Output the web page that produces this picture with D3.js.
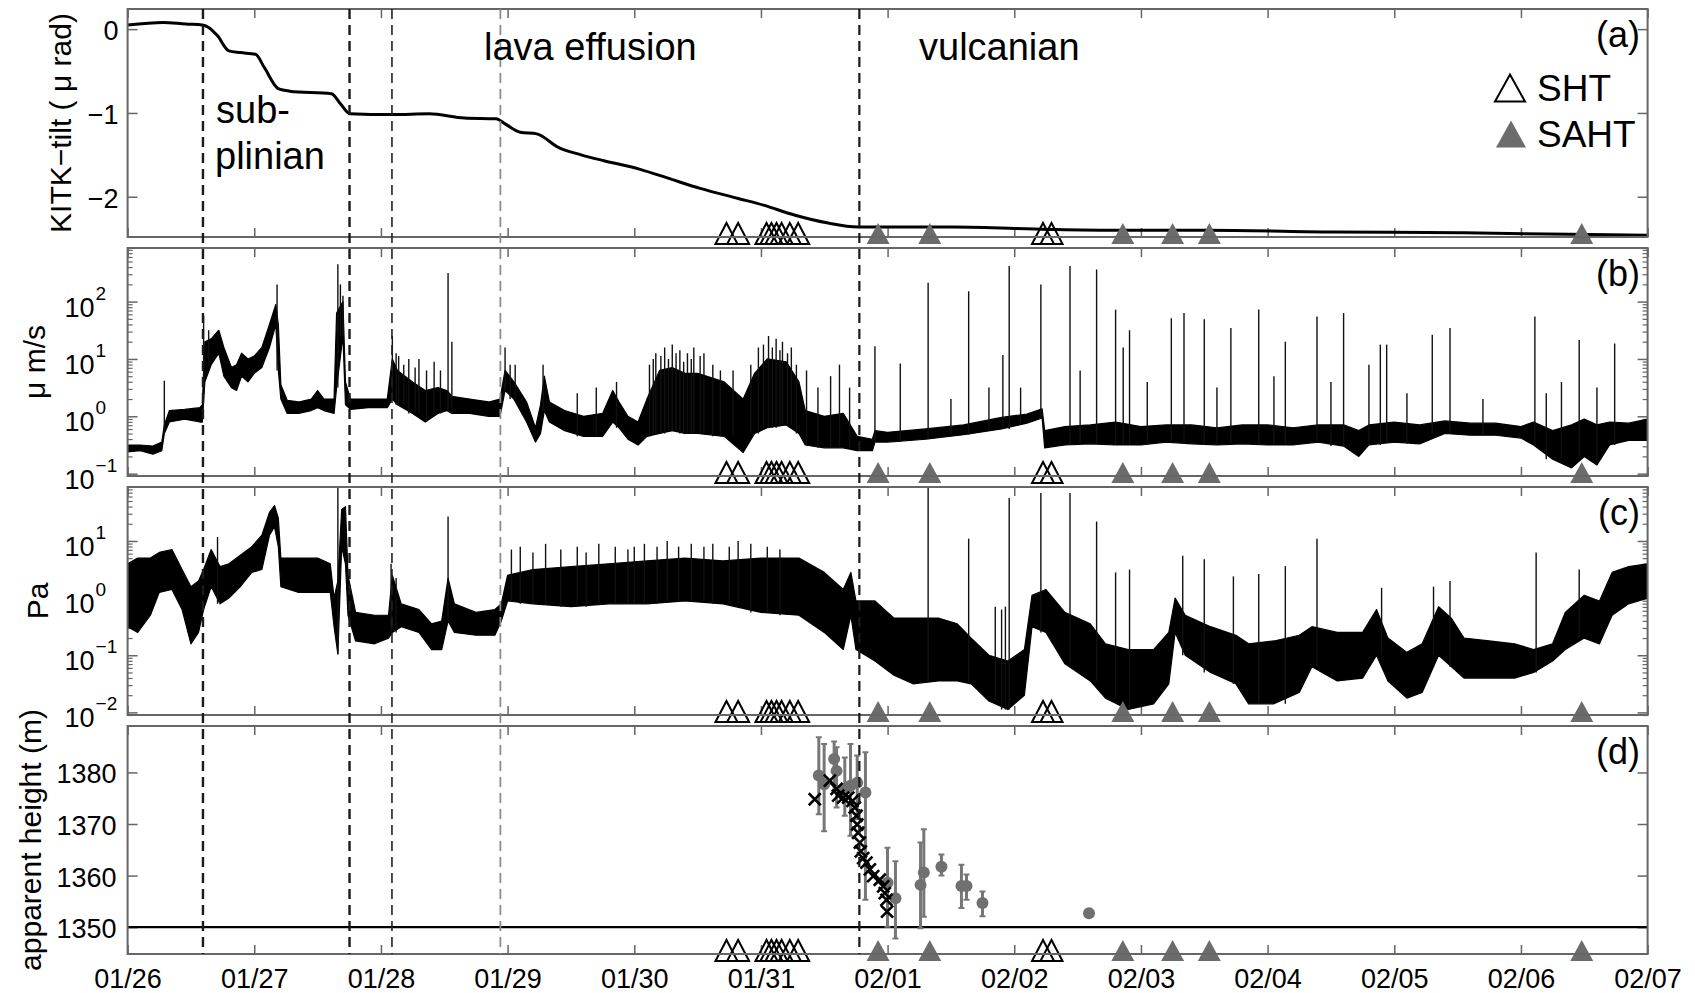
<!DOCTYPE html>
<html>
<head>
<meta charset="utf-8">
<script src="https://cdn.jsdelivr.net/npm/d3@7/dist/d3.min.js"></script>
<style>
  body { margin: 0; background: #fff; }
  svg text { font-family: "Liberation Sans", Arial, sans-serif; }
</style>
</head>
<body>
<svg id="chart" width="1695" height="993"></svg>
<script>
// ---------- data (time = days since 01/26 00:00) ----------
const xTickLabels = ["01/26", "01/27", "01/28", "01/29", "01/30", "01/31", "02/01",
                     "02/02", "02/03", "02/04", "02/05", "02/06", "02/07"];
const eventTimes = [0.595, 1.752, 2.087, 2.943, 5.777];

// (a) tilt, micro-rad
const tiltTime  = [0, 0.28, 0.46, 0.59, 0.64, 0.71, 0.80, 0.89, 1.01, 1.08, 1.19, 1.28, 1.61, 1.68, 1.755,
                   2.09, 2.38, 2.66, 2.91, 2.98, 3.10, 3.23, 3.40, 3.58, 3.76, 4.04, 4.29, 4.52, 4.82, 5.02,
                   5.27, 5.52, 5.77, 6.52, 7.27, 7.77, 8.52, 9.52, 10.52, 11.03, 12.0];
const tiltValue = [0.05, 0.08, 0.06, 0.05, 0.02, -0.08, -0.26, -0.28, -0.30, -0.46, -0.71, -0.74, -0.77, -0.89, -1.01,
                   -1.02, -1.01, -1.06, -1.07, -1.13, -1.23, -1.25, -1.41, -1.50, -1.57, -1.67, -1.79, -1.90, -2.02, -2.10,
                   -2.22, -2.31, -2.36, -2.36, -2.39, -2.40, -2.40, -2.42, -2.43, -2.44, -2.46];

// (b) velocity envelope, log10(um/s): [time, low, high]
const velBand = [[0,-0.62,-0.5],[0.10,-0.6,-0.5],[0.20,-0.66,-0.52],[0.27,-0.6,-0.45],[0.29,-0.3,-0.15],[0.33,-0.1,0.1],
  [0.45,-0.05,0.12],[0.57,-0.1,0.15],[0.59,-0.1,0.2],[0.61,0.6,1.3],[0.66,0.9,1.35],[0.72,1.1,1.5],[0.76,0.7,1.2],
  [0.82,0.5,0.85],[0.86,0.45,0.9],[0.90,0.7,1.1],[0.95,0.6,1.0],[1.00,0.75,1.05],[1.06,0.85,1.2],[1.12,1.2,1.6],
  [1.17,1.6,1.95],[1.19,0.8,1.6],[1.21,0.3,0.55],[1.26,0.05,0.28],[1.35,0.05,0.25],[1.45,0.1,0.3],[1.50,0.15,0.45],
  [1.55,0.1,0.3],[1.63,0.05,0.3],[1.65,0.5,1.8],[1.70,1.4,2.0],[1.72,0.2,0.6],[1.76,0.12,0.3],[1.90,0.15,0.3],
  [2.05,0.15,0.3],[2.09,0.3,1.0],[2.13,0.2,0.8],[2.25,0.05,0.6],[2.35,-0.1,0.45],[2.45,0.05,0.5],[2.52,0.1,0.45],
  [2.56,0.05,0.35],[2.70,0.05,0.3],[2.85,0.0,0.25],[2.94,0.0,0.3],[2.98,0.45,0.8],[3.05,0.3,0.6],[3.15,-0.1,0.25],
  [3.22,-0.45,-0.2],[3.26,-0.3,0.2],[3.29,0.1,0.7],[3.33,-0.1,0.25],[3.45,-0.25,0.1],[3.60,-0.35,0.0],
  [3.75,-0.35,0.05],[3.83,-0.1,0.45],[3.88,-0.2,0.25],[3.95,-0.4,0.0],[4.03,-0.5,-0.1],[4.10,-0.35,0.3],
  [4.20,-0.3,0.8],[4.30,-0.25,0.85],[4.40,-0.3,0.75],[4.50,-0.3,0.75],[4.71,-0.35,0.6],[4.86,-0.63,0.3],
  [4.95,-0.3,0.75],[5.05,-0.2,1.0],[5.20,-0.15,0.95],[5.30,-0.3,0.6],[5.35,-0.5,0.1],[5.50,-0.55,0.0],
  [5.65,-0.55,0.05],[5.76,-0.6,-0.35],[5.88,-0.6,-0.4],[5.90,-0.45,-0.25],[6.00,-0.45,-0.28],[6.30,-0.4,-0.22],
  [6.60,-0.32,-0.15],[6.90,-0.22,-0.02],[7.10,-0.12,0.04],[7.22,-0.03,0.13],[7.24,-0.55,-0.25],[7.40,-0.5,-0.18],
  [7.60,-0.48,-0.15],[7.80,-0.5,-0.1],[8.00,-0.5,-0.18],[8.20,-0.45,-0.15],[8.40,-0.48,-0.15],[8.60,-0.5,-0.2],
  [8.80,-0.48,-0.15],[9.00,-0.5,-0.15],[9.20,-0.5,-0.2],[9.40,-0.45,-0.15],[9.60,-0.52,-0.15],[9.72,-0.7,-0.25],
  [9.80,-0.5,-0.15],[10.0,-0.45,-0.1],[10.2,-0.48,-0.15],[10.4,-0.3,-0.08],[10.6,-0.33,-0.12],[10.8,-0.33,-0.12],
  [11.0,-0.38,-0.18],[11.1,-0.5,-0.1],[11.25,-0.75,-0.25],[11.4,-0.9,-0.15],[11.5,-0.7,-0.05],[11.6,-0.85,-0.15],
  [11.7,-0.5,-0.1],[11.85,-0.42,-0.12],[12.0,-0.42,-0.05]];
// (b) isolated spikes: [time, log10 peak]
const velSpikes = [[0.29,0.62],[0.60,1.75],[0.64,1.5],[1.18,2.3],[1.66,2.65],[1.68,2.3],[1.70,2.1],[2.09,1.4],
  [2.12,1.1],[2.14,1.05],[2.18,0.9],[2.22,1.0],[2.27,0.85],[2.30,1.0],[2.36,0.8],[2.42,0.95],[2.47,0.8],[2.53,2.5],
  [2.56,1.3],[2.98,1.2],[3.02,0.9],[3.06,0.9],[3.28,0.9],[3.55,0.4],[3.70,0.5],[3.86,0.6],[4.12,0.9],[4.15,1.0],
  [4.17,1.1],[4.21,1.05],[4.24,1.2],[4.27,1.0],[4.30,1.25],[4.33,1.1],[4.36,1.15],[4.39,0.95],[4.42,1.1],[4.45,1.0],
  [4.47,1.2],[4.52,1.05],[4.55,1.1],[4.62,0.9],[4.68,0.8],[4.78,0.8],[4.92,0.9],[4.98,1.2],[5.02,1.25],[5.06,1.4],
  [5.09,1.2],[5.12,1.35],[5.15,1.15],[5.17,1.3],[5.21,1.1],[5.24,1.2],[5.28,0.9],[5.36,0.8],[5.45,0.5],[5.55,0.7],
  [5.62,0.9],[5.70,0.5],[5.90,1.22],[6.10,0.92],[6.32,2.33],[6.50,0.3],[6.64,2.18],[6.80,0.5],[6.91,1.07],[6.96,2.62],
  [7.05,0.5],[7.21,2.3],[7.44,2.62],[7.52,0.8],[7.65,2.56],[7.80,1.86],[7.86,1.2],[7.91,1.5],[8.05,0.6],[8.24,1.71],
  [8.34,1.8],[8.50,1.69],[8.60,0.5],[8.71,1.54],[8.93,1.86],[9.05,0.7],[9.14,1.3],[9.39,1.74],[9.50,0.6],[9.60,1.8],
  [9.80,0.9],[9.89,1.25],[9.94,1.25],[10.10,0.4],[10.30,1.42],[10.44,1.54],[10.70,0.3],[11.11,1.74],[11.20,0.4],
  [11.32,0.6],[11.46,1.33],[11.60,0.5],[11.74,1.27]];

// (c) infrasound envelope, log10(Pa): [time, low, high]
const presBand = [[0,-0.5,0.6],[0.08,-0.6,0.7],[0.18,-0.3,0.7],[0.25,0.1,0.8],[0.35,0.15,0.85],[0.43,-0.2,0.5],
  [0.50,-0.8,0.2],[0.56,-0.6,0.3],[0.60,-0.2,0.5],[0.66,0.2,0.85],[0.73,-0.1,0.55],[0.80,0.0,0.6],[0.89,0.2,0.75],
  [0.98,0.45,0.9],[1.06,0.5,1.1],[1.12,1.1,1.5],[1.16,1.25,1.62],[1.19,0.9,1.4],[1.21,0.2,0.7],[1.35,0.1,0.7],
  [1.50,0.1,0.7],[1.60,0.1,0.6],[1.63,-0.5,0.0],[1.66,-0.98,0.3],[1.69,0.9,1.55],[1.72,0.6,1.6],[1.74,-0.3,0.4],
  [1.80,-0.75,-0.25],[1.95,-0.8,-0.3],[2.06,-0.7,-0.3],[2.09,-0.6,0.4],[2.16,-0.5,-0.1],[2.30,-0.6,-0.2],
  [2.40,-0.9,-0.45],[2.48,-0.9,-0.4],[2.53,-0.4,0.35],[2.58,-0.6,-0.1],[2.75,-0.65,-0.25],[2.90,-0.65,-0.2],
  [2.95,-0.4,-0.1],[3.00,-0.05,0.4],[3.20,-0.1,0.5],[3.50,-0.15,0.55],[3.80,-0.1,0.6],[4.10,-0.1,0.65],
  [4.40,-0.05,0.7],[4.70,-0.1,0.65],[5.00,-0.25,0.7],[5.30,-0.3,0.7],[5.50,-0.6,0.45],[5.65,-0.9,0.15],
  [5.71,-0.3,0.45],[5.75,-0.9,-0.05],[5.90,-1.1,-0.05],[6.05,-1.35,-0.35],[6.20,-1.5,-0.35],[6.40,-1.45,-0.35],
  [6.55,-1.45,-0.45],[6.66,-1.5,-0.7],[6.80,-1.8,-1.0],[6.95,-1.95,-1.1],[7.08,-1.7,-0.9],[7.14,-0.5,0.05],
  [7.25,-0.6,0.15],[7.40,-1.15,-0.25],[7.60,-1.45,-0.45],[7.72,-1.75,-0.8],[7.90,-1.95,-0.9],[8.10,-1.85,-0.9],
  [8.22,-1.5,-0.6],[8.27,-0.6,0.0],[8.35,-1.0,-0.3],[8.55,-1.3,-0.5],[8.75,-1.5,-0.65],[8.85,-1.85,-0.8],
  [9.05,-1.85,-0.75],[9.25,-1.65,-0.65],[9.35,-1.2,-0.5],[9.55,-1.45,-0.6],[9.75,-1.4,-0.6],[9.86,-1.0,-0.2],
  [9.95,-1.45,-0.7],[10.10,-1.75,-0.95],[10.22,-1.65,-0.8],[10.35,-1.0,-0.15],[10.45,-1.2,-0.35],[10.55,-1.4,-0.7],
  [10.75,-1.4,-0.75],[10.95,-1.4,-0.8],[11.10,-1.3,-0.9],[11.25,-1.1,-0.8],[11.35,-0.9,-0.25],[11.50,-0.7,0.05],
  [11.62,-0.8,-0.05],[11.72,-0.3,0.45],[11.85,-0.1,0.55],[12.00,0.0,0.6]];
const presSpikes = [[0.71,1.07],[1.66,1.95],[2.08,0.6],[2.12,0.35],[2.53,1.43],[3.03,0.85],[3.10,0.9],[3.20,0.8],
  [3.30,0.95],[3.42,0.85],[3.55,0.9],[3.62,0.8],[3.72,0.95],[3.85,0.9],[3.95,0.85],[4.00,0.9],[4.08,0.95],[4.18,0.9],
  [4.26,1.0],[4.35,0.9],[4.45,0.95],[4.55,0.9],[4.62,0.95],[4.75,0.9],[4.82,1.0],[4.92,0.95],[5.05,0.9],[5.15,0.85],
  [6.32,1.93],[6.64,1.04],[6.85,-0.15],[6.90,-0.2],[6.93,-0.15],[6.96,1.75],[7.21,1.84],[7.44,1.84],[7.65,1.34],
  [7.80,0.45],[7.91,0.5],[8.33,0.74],[8.50,0.68],[8.73,0.38],[8.93,0.42],[9.14,0.56],[9.39,1.04],[9.90,0.18],
  [10.31,0.2],[10.44,0.3],[11.12,0.8],[11.46,0.5]];

// (d) apparent height, m
const dotTime    = [5.457, 5.499, 5.578, 5.597, 5.662, 5.707, 5.760, 5.825, 5.999, 6.062, 6.260, 6.286, 6.425, 6.583, 6.623, 6.749, 7.590];
const dotHeight  = [1379.4, 1377.7, 1382.6, 1380.3, 1376.8, 1377.4, 1378.0, 1376.1, 1358.6, 1355.6, 1358.2, 1360.6, 1361.7, 1358.0, 1358.0, 1354.7, 1352.7];
const dotErrLow  = [1371.9, 1368.6, 1376.4, 1373.2, 1371.6, 1367.7, 1370.9, 1355.3, 1350.1, 1347.8, 1349.8, 1352.0, 1360.0, 1353.7, 1355.3, 1352.1, 1352.0];
const dotErrHigh = [1386.8, 1385.5, 1386.0, 1384.9, 1382.9, 1385.5, 1383.3, 1383.9, 1365.4, 1362.8, 1366.4, 1369.0, 1364.1, 1362.1, 1360.2, 1356.9, 1353.4];
const crossTime   = [5.425, 5.544, 5.597, 5.610, 5.649, 5.689, 5.723, 5.741, 5.754, 5.760, 5.767, 5.781, 5.789,
                     5.807, 5.833, 5.860, 5.886, 5.938, 5.965, 5.978, 5.991, 5.996];
const crossHeight = [1374.8, 1378.4, 1376.8, 1375.5, 1375.1, 1375.1, 1374.5, 1373.2, 1371.6, 1369.9, 1368.3, 1366.4, 1364.7,
                     1363.4, 1362.5, 1361.2, 1359.9, 1359.2, 1357.9, 1356.6, 1355.3, 1353.0];
const crestHeight = 1350;

// event markers
const shtTime  = [4.728, 4.820, 5.044, 5.083, 5.123, 5.163, 5.228, 5.294, 7.227, 7.294];
const sahtTime = [5.925, 6.333, 7.857, 8.250, 8.540, 11.48];

// ---------- layout ----------
const svg = d3.select("#chart");
const X0 = 127.6, X1 = 1647.6;
const panelTops = [9, 248, 487, 726];
const PH = 228;
const frameColor = "#666";
const grayMark = "#6c6c6c";

const x = d3.scaleLinear().domain([0, 12]).range([X0, X1]);
const yA = d3.scaleLinear().domain([-2.48, 0.24]).range([panelTops[0] + PH, panelTops[0]]);
const yB = d3.scaleLog().domain([0.091, 860]).range([panelTops[1] + PH, panelTops[1]]);
const yC = d3.scaleLog().domain([0.009, 88]).range([panelTops[2] + PH, panelTops[2]]);
const yD = d3.scaleLinear().domain([1344.8, 1389]).range([panelTops[3] + PH, panelTops[3]]);
const yScales = [yA, yB, yC, yD];

const defs = svg.append("defs");
panelTops.forEach((top, i) => {
  defs.append("clipPath").attr("id", "clip" + i)
    .append("rect").attr("x", X0).attr("y", top).attr("width", X1 - X0).attr("height", PH);
});

function logMinor(scale) {
  const [lo, hi] = scale.domain();
  const out = [];
  for (let k = -3; k <= 3; k++) for (let m = 2; m <= 9; m++) {
    const v = m * Math.pow(10, k);
    if (v > lo && v < hi) out.push(v);
  }
  return out;
}

function styleAxis(g, width) {
  g.select(".domain").remove();
  g.selectAll(".tick line").attr("stroke", frameColor).attr("stroke-width", width || 1.5);
  g.selectAll(".tick text").attr("fill", "#000").attr("font-size", 27)
    .attr("font-family", "'Liberation Sans', Arial, sans-serif");
}

// axes (ticks) for each panel
panelTops.forEach((top, i) => {
  const bottom = top + PH;
  const y = yScales[i];
  const g = svg.append("g").attr("class", "panel-axes");

  const isLast = i === 3;
  g.append("g").attr("transform", `translate(0,${bottom})`)
    .call(d3.axisBottom(x).tickValues(d3.range(13)).tickSize(-9).tickSizeOuter(0).tickPadding(15)
      .tickFormat(isLast ? (d, k) => xTickLabels[k] : ""))
    .call(styleAxis);
  g.append("g").attr("transform", `translate(0,${top})`)
    .call(d3.axisTop(x).tickValues(d3.range(13)).tickSize(-9).tickSizeOuter(0).tickFormat(""))
    .call(styleAxis);

  let major;
  if (i === 0) major = [-2, -1, 0];
  else if (i === 1) major = [0.1, 1, 10, 100];
  else if (i === 2) major = [0.01, 0.1, 1, 10];
  else major = [1350, 1360, 1370, 1380];

  g.append("g").attr("transform", `translate(${X0},0)`)
    .call(d3.axisLeft(y).tickValues(major).tickSize(-10).tickSizeOuter(0).tickFormat(""))
    .call(styleAxis);
  g.append("g").attr("transform", `translate(${X1},0)`)
    .call(d3.axisRight(y).tickValues(major).tickSize(-10).tickSizeOuter(0).tickFormat(""))
    .call(styleAxis);

  if (i === 1 || i === 2) {
    const minor = logMinor(y);
    g.append("g").attr("transform", `translate(${X0},0)`)
      .call(d3.axisLeft(y).tickValues(minor).tickSize(-5).tickSizeOuter(0).tickFormat(""))
      .call(styleAxis, 1.2);
    g.append("g").attr("transform", `translate(${X1},0)`)
      .call(d3.axisRight(y).tickValues(minor).tickSize(-5).tickSizeOuter(0).tickFormat(""))
      .call(styleAxis, 1.2);
    // 10^n labels
    major.forEach(v => {
      const yy = y(v);
      const e = Math.round(Math.log10(v));
      g.append("text").attr("x", X0 - 33).attr("y", yy + 15).attr("text-anchor", "end")
        .attr("font-size", 27).text("10");
      g.append("text").attr("x", X0 - 32).attr("y", yy - 2).attr("text-anchor", "start")
        .attr("font-size", 19).text(e < 0 ? "\u2212" + (-e) : String(e));
    });
  } else {
    major.forEach(v => {
      g.append("text").attr("x", X0 - (i === 0 ? 9 : 11)).attr("y", y(v) + 11)
        .attr("text-anchor", "end").attr("font-size", 27)
        .text(v < 0 ? "\u2212" + (-v) : String(v));
    });
  }
});

// ---------- (a) tilt ----------
const gA = svg.append("g").attr("clip-path", "url(#clip0)");
gA.append("path")
  .datum(d3.zip(tiltTime, tiltValue))
  .attr("fill", "none").attr("stroke", "#000").attr("stroke-width", 3)
  .attr("d", d3.line().x(d => x(d[0])).y(d => yA(d[1])).curve(d3.curveMonotoneX));

// ---------- (b), (c) noisy traces ----------
function drawTrace(clipId, y, band, spikes) {
  const g = svg.append("g").attr("clip-path", `url(#${clipId})`);
  g.append("path").datum(band)
    .attr("fill", "#000").attr("stroke", "#000").attr("stroke-width", 1.2).attr("stroke-linejoin", "round")
    .attr("d", d3.area().x(d => x(d[0])).y0(d => y(10 ** d[1])).y1(d => y(10 ** d[2])));
  const near = d3.bisector(d => d[0]).center;
  g.selectAll("line.spike").data(spikes).join("line")
    .attr("class", "spike")
    .attr("x1", d => x(d[0])).attr("x2", d => x(d[0]))
    .attr("y1", d => y(10 ** band[near(band, d[0])][1]))
    .attr("y2", d => y(10 ** d[1]))
    .attr("stroke", "#111").attr("stroke-width", 1.4);
}
drawTrace("clip1", yB, velBand, velSpikes);
drawTrace("clip2", yC, presBand, presSpikes);

// ---------- (d) apparent height ----------
const gD = svg.append("g").attr("clip-path", "url(#clip3)");
gD.append("line")
  .attr("x1", X0).attr("x2", X1).attr("y1", yD(crestHeight)).attr("y2", yD(crestHeight))
  .attr("stroke", "#000").attr("stroke-width", 2.2);
const dots = d3.range(dotTime.length);
gD.selectAll("line.err").data(dots).join("line").attr("class", "err")
  .attr("x1", i => x(dotTime[i])).attr("x2", i => x(dotTime[i]))
  .attr("y1", i => yD(dotErrLow[i])).attr("y2", i => yD(dotErrHigh[i]))
  .attr("stroke", "#777").attr("stroke-width", 3);
gD.selectAll("path.cap").data(dots).join("path").attr("class", "cap")
  .attr("d", i => `M${x(dotTime[i]) - 3},${yD(dotErrLow[i])}h6M${x(dotTime[i]) - 3},${yD(dotErrHigh[i])}h6`)
  .attr("stroke", "#777").attr("stroke-width", 2);
gD.selectAll("circle.dot").data(dots).join("circle").attr("class", "dot")
  .attr("cx", i => x(dotTime[i])).attr("cy", i => yD(dotHeight[i])).attr("r", 6)
  .attr("fill", "#707070");
gD.selectAll("path.cross").data(d3.range(crossTime.length)).join("path").attr("class", "cross")
  .attr("transform", i => `translate(${x(crossTime[i])},${yD(crossHeight[i])})`)
  .attr("d", "M-6,-6L6,6M-6,6L6,-6")
  .attr("stroke", "#000").attr("stroke-width", 2.6).attr("fill", "none");

// ---------- event triangles in every panel ----------
function triPath(cx, cy, w, h) {
  return `M${cx - w / 2},${cy + h / 2}L${cx},${cy - h / 2}L${cx + w / 2},${cy + h / 2}Z`;
}
panelTops.forEach(top => {
  const cy = top + PH - 3.5;
  const g = svg.append("g");
  g.selectAll("path.saht").data(sahtTime).join("path").attr("class", "saht")
    .attr("d", t => triPath(x(t), cy, 23, 21)).attr("fill", grayMark);
  g.selectAll("path.sht").data(shtTime).join("path").attr("class", "sht")
    .attr("d", t => triPath(x(t), cy, 22, 21))
    .attr("fill", "none").attr("stroke", "#000").attr("stroke-width", 2);
});

// ---------- frames ----------
panelTops.forEach(top => {
  svg.append("rect").attr("x", X0).attr("y", top).attr("width", X1 - X0).attr("height", PH)
    .attr("fill", "none").attr("stroke", frameColor).attr("stroke-width", 2);
});

// ---------- vertical event lines across all panels ----------
const evStroke = ["#1a1a1a", "#1a1a1a", "#222", "#8c8c8c", "#1a1a1a"];
const evWidth = [2.4, 2.4, 1.6, 1.8, 2.2];
svg.append("g").selectAll("line").data(eventTimes).join("line")
  .attr("x1", d => x(d)).attr("x2", d => x(d))
  .attr("y1", panelTops[0]).attr("y2", panelTops[3] + PH)
  .attr("stroke", (d, i) => evStroke[i]).attr("stroke-width", (d, i) => evWidth[i])
  .attr("stroke-dasharray", "10,6");

// ---------- texts ----------
const T = svg.append("g");
const panelLetters = ["(a)", "(b)", "(c)", "(d)"];
panelTops.forEach((top, i) => {
  T.append("text").attr("x", 1640).attr("y", top + 38).attr("text-anchor", "end")
    .attr("font-size", 36).text(panelLetters[i]);
});
const yLabels = ["KITK\u2212tilt ( \u03bc rad)", "\u03bc m/s", "Pa", "apparent height (m)"];
const yLabelX = [71, 45, 48, 41];
panelTops.forEach((top, i) => {
  const cy = top + PH / 2;
  T.append("text").attr("transform", `translate(${yLabelX[i]},${cy}) rotate(-90)`)
    .attr("text-anchor", "middle").attr("font-size", 30).text(yLabels[i]);
});
T.append("text").attr("x", 216).attr("y", 123).attr("font-size", 38).text("sub-");
T.append("text").attr("x", 215).attr("y", 169).attr("font-size", 38).text("plinian");
T.append("text").attr("x", 484).attr("y", 60).attr("font-size", 38).text("lava effusion");
T.append("text").attr("x", 919).attr("y", 60).attr("font-size", 38).text("vulcanian");

// legend
T.append("path").attr("d", triPath(1510, 88, 30, 27))
  .attr("fill", "none").attr("stroke", "#000").attr("stroke-width", 2);
T.append("text").attr("x", 1537).attr("y", 101).attr("font-size", 37).text("SHT");
T.append("path").attr("d", triPath(1511, 134, 30, 27)).attr("fill", grayMark);
T.append("text").attr("x", 1537).attr("y", 147).attr("font-size", 37).text("SAHT");
</script>
</body>
</html>
